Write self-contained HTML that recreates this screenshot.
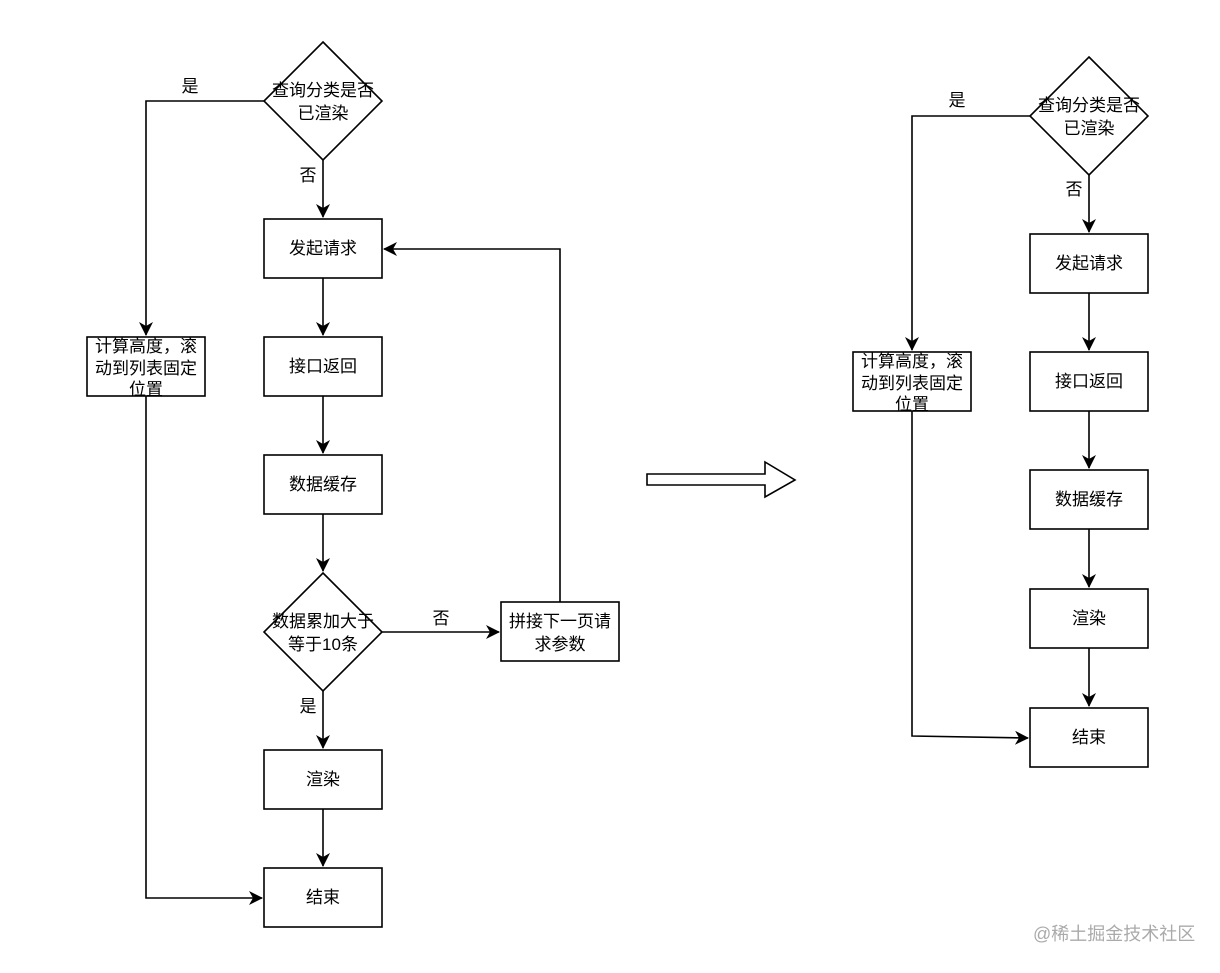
<!DOCTYPE html>
<html><head><meta charset="utf-8"><style>
body{margin:0;background:#fff}
svg text{font-family:"Liberation Sans","Noto Sans CJK SC",sans-serif;font-size:17px;fill:#000}
</style></head><body>
<svg width="1220" height="968" viewBox="0 0 1220 968" xmlns="http://www.w3.org/2000/svg">
<defs><marker id="a" markerWidth="14" markerHeight="14" refX="13" refY="7" orient="auto" markerUnits="userSpaceOnUse"><path d="M0,0 L14,7 L0,14 L4,7 Z" fill="#000"/></marker></defs>
<g stroke="#000" stroke-width="1.6" fill="#fff">
<polygon points="323,42 382,101 323,160 264,101"/>
<rect x="264" y="219" width="118" height="59"/>
<rect x="264" y="337" width="118" height="59"/>
<rect x="264" y="455" width="118" height="59"/>
<polygon points="323,573 382,632 323,691 264,632"/>
<rect x="264" y="750" width="118" height="59"/>
<rect x="264" y="868" width="118" height="59"/>
<rect x="87" y="337" width="118" height="59"/>
<rect x="501" y="602" width="118" height="59"/>
<g fill="none" marker-end="url(#a)">
<path d="M323,160 V217"/><path d="M323,278 V335"/><path d="M323,396 V453"/><path d="M323,514 V571"/>
<path d="M323,691 V748"/><path d="M323,809 V866"/>
<path d="M264,101 H146 V335"/><path d="M146,396 V898 H262"/>
<path d="M382,632 H499"/><path d="M560,602 V249 H384"/>
</g>
<polygon points="1089,57 1148,116 1089,175 1030,116"/>
<rect x="1030" y="234" width="118" height="59"/>
<rect x="1030" y="352" width="118" height="59"/>
<rect x="1030" y="470" width="118" height="59"/>
<rect x="1030" y="589" width="118" height="59"/>
<rect x="1030" y="708" width="118" height="59"/>
<rect x="853" y="352" width="118" height="59"/>
<g fill="none" marker-end="url(#a)">
<path d="M1089,175 V232"/><path d="M1089,293 V350"/><path d="M1089,411 V468"/><path d="M1089,529 V587"/><path d="M1089,648 V706"/>
<path d="M1030,116 H912 V350"/><path d="M912,411 V736 L1028,738"/>
</g>
<polygon points="647,474 765,474 765,462 795,480 765,497 765,485 647,485"/>
</g>
<g text-anchor="middle">
<text x="323" y="96">查询分类是否</text><text x="323" y="119">已渲染</text>
<text x="323" y="254">发起请求</text><text x="323" y="372">接口返回</text><text x="323" y="490">数据缓存</text>
<text x="323" y="627">数据累加大于</text><text x="323" y="650">等于10条</text>
<text x="323" y="785">渲染</text><text x="323" y="903">结束</text>
<text x="146" y="352">计算高度，滚</text><text x="146" y="374">动到列表固定</text><text x="146" y="395">位置</text>
<text x="560" y="627">拼接下一页请</text><text x="560" y="650">求参数</text>
<text x="190" y="92">是</text><text x="308" y="181">否</text><text x="441" y="624">否</text><text x="308" y="712">是</text>
<text x="1089" y="111">查询分类是否</text><text x="1089" y="134">已渲染</text>
<text x="1089" y="269">发起请求</text><text x="1089" y="387">接口返回</text><text x="1089" y="505">数据缓存</text>
<text x="1089" y="624">渲染</text><text x="1089" y="743">结束</text>
<text x="912" y="367">计算高度，滚</text><text x="912" y="389">动到列表固定</text><text x="912" y="410">位置</text>
<text x="957" y="106">是</text><text x="1074" y="195">否</text>
</g>
<text x="1033" y="940" style="fill:#aaa;font-size:18px">@稀土掘金技术社区</text>
</svg>
</body></html>
